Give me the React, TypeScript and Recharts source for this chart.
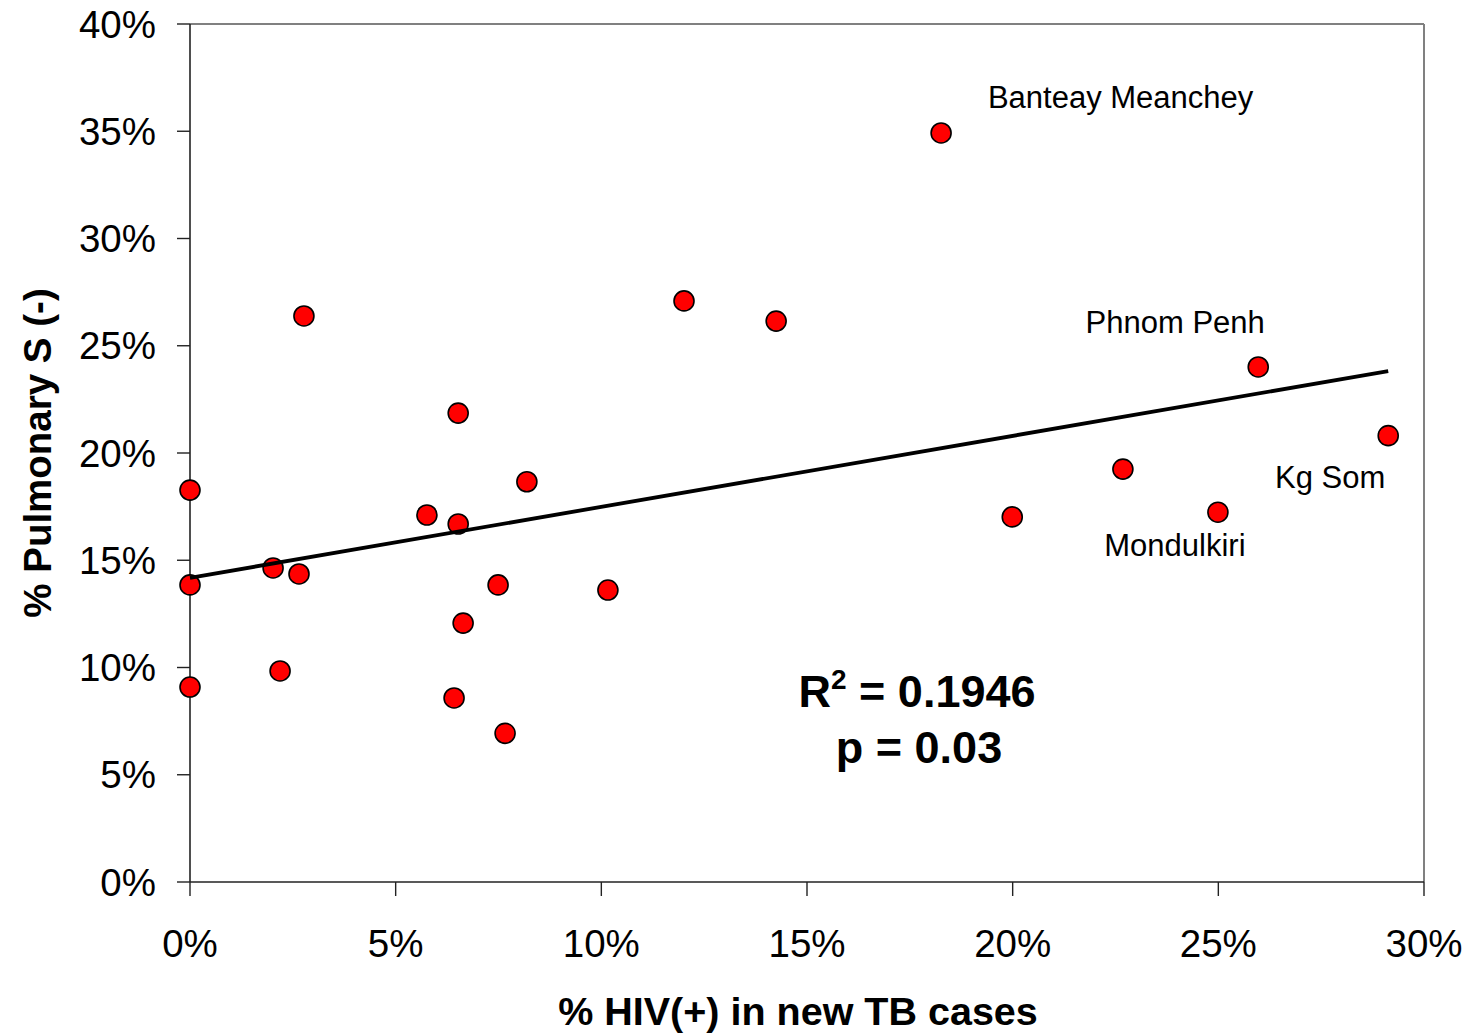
import React from "react";
import {
  ScatterChart,
  Scatter,
  XAxis,
  YAxis,
  ReferenceLine,
  Customized,
} from "recharts";

// % HIV(+) in new TB cases (x, in %)
const hivPct = [0, 0, 0, 2.02, 2.19, 2.65, 2.77, 5.76, 6.42, 6.52, 6.52, 6.64, 7.49, 7.66, 8.19, 10.16, 12.01, 14.25, 18.26, 19.99, 22.68, 24.99, 25.97, 29.13];
// % Pulmonary S(-) (y, in %)
const pulmSneg = [18.27, 13.85, 9.09, 14.64, 9.84, 14.36, 26.39, 17.11, 8.58, 21.86, 16.69, 12.07, 13.85, 6.93, 18.66, 13.61, 27.09, 26.15, 34.92, 17.02, 19.25, 17.24, 24.01, 20.81];
// Province labels (empty = unlabelled)
const provinceLabels = ["", "", "", "", "", "", "", "", "", "", "", "", "", "", "", "", "", "", "Banteay Meanchey", "", "", "Mondulkiri", "Phnom Penh", "Kg Som"];

// Trend line end points
const trendX = [0, 29.13];
const trendY = [14.18, 23.82];

const xTicks = [0, 5, 10, 15, 20, 25, 30];
const yTicks = [0, 5, 10, 15, 20, 25, 30, 35, 40];

const rSquaredText = "0.1946";
const pValueText = "0.03";

const data = hivPct.map((x, i) => ({ x, y: pulmSneg[i], label: provinceLabels[i] }));
const trendData = trendX.map((x, i) => ({ x, y: trendY[i] }));

// label placement offsets (style, not data)
const labelOffsets: Record<string, { dx: number; dy: number }> = {
  "Banteay Meanchey": { dx: 179.5, dy: -25 },
  "Phnom Penh": { dx: -83, dy: -34 },
  "Kg Som": { dx: -58, dy: 52 },
  Mondulkiri: { dx: -43, dy: 44 },
};

const FONT = "'Liberation Sans', Arial, Helvetica, sans-serif";

const PointShape = (props: any) => {
  const { cx, cy, payload } = props;
  const lbl = payload && payload.label;
  const off = lbl ? labelOffsets[lbl] : null;
  return (
    <g>
      <circle cx={cx} cy={cy} r={10} fill="#FF0000" stroke="#000" strokeWidth={1.6} />
      {lbl && off ? (
        <text
          x={cx + off.dx}
          y={cy + off.dy}
          textAnchor="middle"
          fontFamily={FONT}
          fontSize={31}
          fill="#000"
        >
          {lbl}
        </text>
      ) : null}
    </g>
  );
};

const NoShape = () => <g />;

const Annotations = (props: any) => {
  const off = props.offset || { left: 190, top: 24, width: 1234, height: 858 };
  const cx = off.left + off.width / 2;
  const cy = off.top + off.height / 2;
  return (
    <g fontFamily={FONT} fill="#000">
      <text
        x={cx - 9}
        y={1025}
        textAnchor="middle"
        fontSize={39.5}
        fontWeight="bold"
      >
        % HIV(+) in new TB cases
      </text>
      <text
        x={51}
        y={cy}
        textAnchor="middle"
        fontSize={38.5}
        fontWeight="bold"
        transform={`rotate(-90, 51, ${cy})`}
      >
        % Pulmonary S (-)
      </text>
      <text x={917} y={707} textAnchor="middle" fontSize={45} fontWeight="bold">
        R<tspan fontSize={28} dy={-18}>2</tspan>
        <tspan dy={18}>{" = " + rSquaredText}</tspan>
      </text>
      <text x={919} y={763} textAnchor="middle" fontSize={45} fontWeight="bold">
        {"p = " + pValueText}
      </text>
    </g>
  );
};

export default function App() {
  return (
    <div style={{ position: "absolute", left: 0, top: 0, background: "#fff" }}>
      <ScatterChart
        width={1470}
        height={1034}
        margin={{ top: 24, right: 46, bottom: 0, left: 0 }}
      >
        <XAxis
          type="number"
          dataKey="x"
          domain={[0, 30]}
          ticks={xTicks}
          tickFormatter={(v: number) => `${v}%`}
          height={152}
          tickSize={14}
          tickMargin={34}
          axisLine={{ stroke: "#222", strokeWidth: 1.6 }}
          tickLine={{ stroke: "#222", strokeWidth: 1.4 }}
          tick={{ fontSize: 38.5, fill: "#000", fontFamily: FONT }}
          interval={0}
        />
        <YAxis
          type="number"
          dataKey="y"
          domain={[0, 40]}
          ticks={yTicks}
          tickFormatter={(v: number) => `${v}%`}
          width={190}
          tickSize={13}
          tickMargin={21}
          axisLine={{ stroke: "#222", strokeWidth: 1.6 }}
          tickLine={{ stroke: "#222", strokeWidth: 1.4 }}
          tick={{ fontSize: 38.5, fill: "#000", fontFamily: FONT }}
          interval={0}
        />
        <ReferenceLine y={40} stroke="#808080" strokeWidth={2} />
        <ReferenceLine x={30} stroke="#808080" strokeWidth={2} />
        <Scatter data={data} shape={PointShape} isAnimationActive={false} />
        <Scatter
          data={trendData}
          shape={NoShape}
          line={{ stroke: "#000", strokeWidth: 3.8 }}
          lineType="joint"
          isAnimationActive={false}
        />
        <Customized component={Annotations} />
      </ScatterChart>
    </div>
  );
}
